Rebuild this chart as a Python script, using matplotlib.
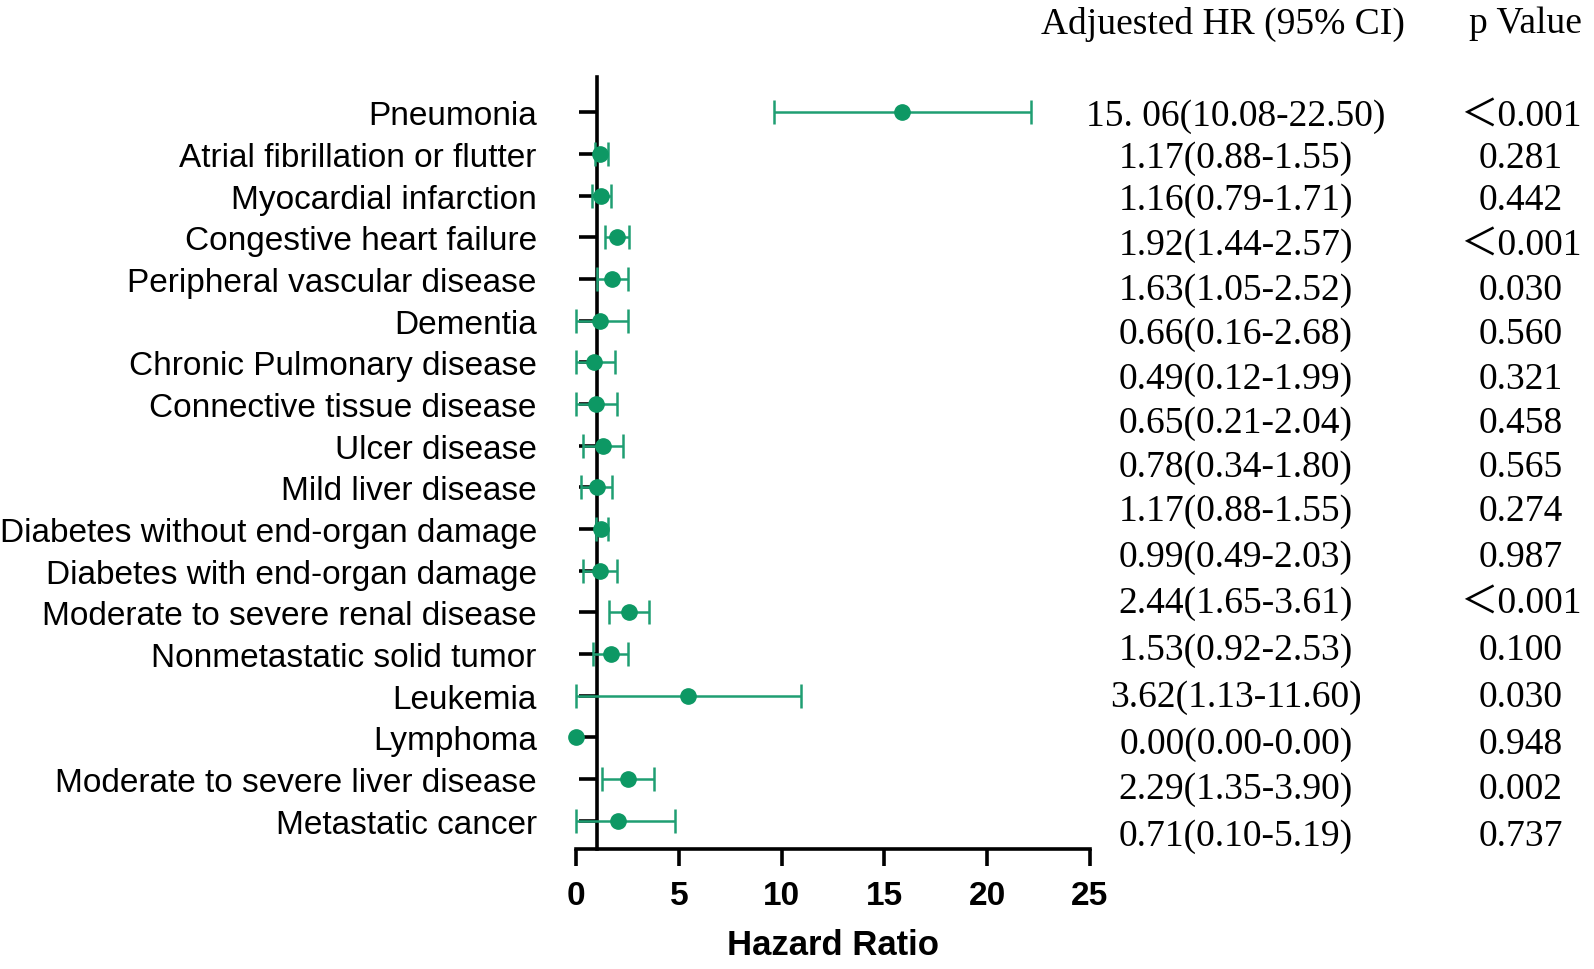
#!/usr/bin/env python3

"""
Forest plot of adjusted hazard ratios for comorbidities.
"""

# --------------------------------- MODULES -----------------------------------
import matplotlib
matplotlib.use("Agg")
import matplotlib.pyplot as plt
# --------------------------------- MODULES -----------------------------------

# ---------------------------------- DATA -------------------------------------
labels = ["Pneumonia", "Atrial fibrillation or flutter",
          "Myocardial infarction", "Congestive heart failure",
          "Peripheral vascular disease", "Dementia",
          "Chronic Pulmonary disease", "Connective tissue disease",
          "Ulcer disease", "Mild liver disease",
          "Diabetes without end-organ damage",
          "Diabetes with end-organ damage",
          "Moderate to severe renal disease", "Nonmetastatic solid tumor",
          "Leukemia", "Lymphoma", "Moderate to severe liver disease",
          "Metastatic cancer"]
hr = [15.88, 1.18, 1.22, 1.98, 1.75, 1.18, 0.88, 0.97, 1.33,
      1.00, 1.20, 1.18, 2.59, 1.70, 5.46, 0.00, 2.51, 2.03]
lower = [9.64, 0.92, 0.76, 1.43, 1.00, 0.00, 0.00, 0.00, 0.36,
         0.23, 0.95, 0.36, 1.60, 0.84, 0.00, 0.00, 1.25, 0.00]
upper = [22.15, 1.54, 1.70, 2.59, 2.51, 2.54, 1.90, 1.98, 2.27,
         1.74, 1.54, 1.98, 3.56, 2.51, 10.94, 0.00, 3.81, 4.81]
x_ticks = [0, 5, 10, 15, 20, 25]
hr_text = ["15. 06(10.08-22.50)", "1.17(0.88-1.55)", "1.16(0.79-1.71)",
           "1.92(1.44-2.57)", "1.63(1.05-2.52)", "0.66(0.16-2.68)",
           "0.49(0.12-1.99)", "0.65(0.21-2.04)", "0.78(0.34-1.80)",
           "1.17(0.88-1.55)", "0.99(0.49-2.03)", "2.44(1.65-3.61)",
           "1.53(0.92-2.53)", "3.62(1.13-11.60)", "0.00(0.00-0.00)",
           "2.29(1.35-3.90)", "0.71(0.10-5.19)"]
p_text = ["\uff1c0.001", "0.281", "0.442", "\uff1c0.001", "0.030", "0.560",
          "0.321", "0.458", "0.565", "0.274", "0.987", "\uff1c0.001",
          "0.100", "0.030", "0.948", "0.002", "0.737"]
# ---------------------------------- DATA -------------------------------------

# text row heights of the right-hand table, pixels from the top
table_rows_px = [117, 159, 201, 246, 291, 335, 380, 424, 468,
                 512, 558, 604, 651, 698, 745, 790, 837]

GREEN = "#0d9864"
SANS = ["Liberation Sans", "DejaVu Sans"]
SERIF = ["Liberation Serif", "Noto Sans CJK JP", "DejaVu Serif"]


def forest_plot(output: str):
    width_px, height_px = 1594, 970
    fig = plt.figure(figsize=(width_px / 100, height_px / 100), dpi=100)
    ax = fig.add_axes([576 / width_px, 1 - 850 / height_px,
                       514 / width_px, (850 - 78) / height_px])

    rows = list(range(len(labels)))
    # rows whose interval has zero width get a dot only
    keep = [i for i in rows if upper[i] > lower[i]]
    err = [[hr[i] - lower[i] for i in keep], [upper[i] - hr[i] for i in keep]]
    ax.errorbar([hr[i] for i in keep], keep, xerr=err, fmt="none",
                ecolor="#1f9e72", elinewidth=1.8, capsize=8.5, capthick=1.8,
                clip_on=False, zorder=4)
    ax.plot(hr, rows, "o", color=GREEN, markersize=11, clip_on=False,
            zorder=5)

    ax.set_xlim(0, 25)
    ax.set_ylim(len(labels) - 1 + 0.68, -0.85)

    for side in ("top", "right"):
        ax.spines[side].set_visible(False)
    ax.spines["left"].set_position(("data", 1))
    ax.spines["left"].set_linewidth(2.6)
    ax.spines["bottom"].set_linewidth(2.6)

    ax.set_yticks(rows)
    ax.set_yticklabels(labels, fontsize=24, family=SANS)
    ax.tick_params(axis="y", direction="out", length=13, width=2.6, pad=30)
    ax.set_xticks(x_ticks)
    ax.set_xticklabels([str(t) for t in x_ticks], fontsize=24,
                       fontweight="bold", family=SANS)
    ax.tick_params(axis="x", direction="out", length=12.5, width=2.6, pad=10)
    ax.set_xlabel("Hazard Ratio", fontsize=25, fontweight="bold",
                  family=SANS, labelpad=12)

    # table columns at the right
    fig.text(1223 / width_px, 1 - 24 / height_px, "Adjuested HR (95% CI)",
             ha="center", va="center", fontsize=27, family=SERIF)
    fig.text(1525 / width_px, 1 - 24 / height_px, "p Value",
             ha="center", va="center", fontsize=27, family=SERIF)
    for y_px, hr_str, p_str in zip(table_rows_px, hr_text, p_text):
        fig.text(1236 / width_px, 1 - y_px / height_px, hr_str,
                 ha="center", va="center", fontsize=27, family=SERIF)
        fig.text(1521 / width_px, 1 - y_px / height_px, p_str,
                 ha="center", va="center", fontsize=27, family=SERIF)

    fig.savefig(output, dpi=100)


def main():
    forest_plot("out.png")


if __name__ == "__main__":
    main()
